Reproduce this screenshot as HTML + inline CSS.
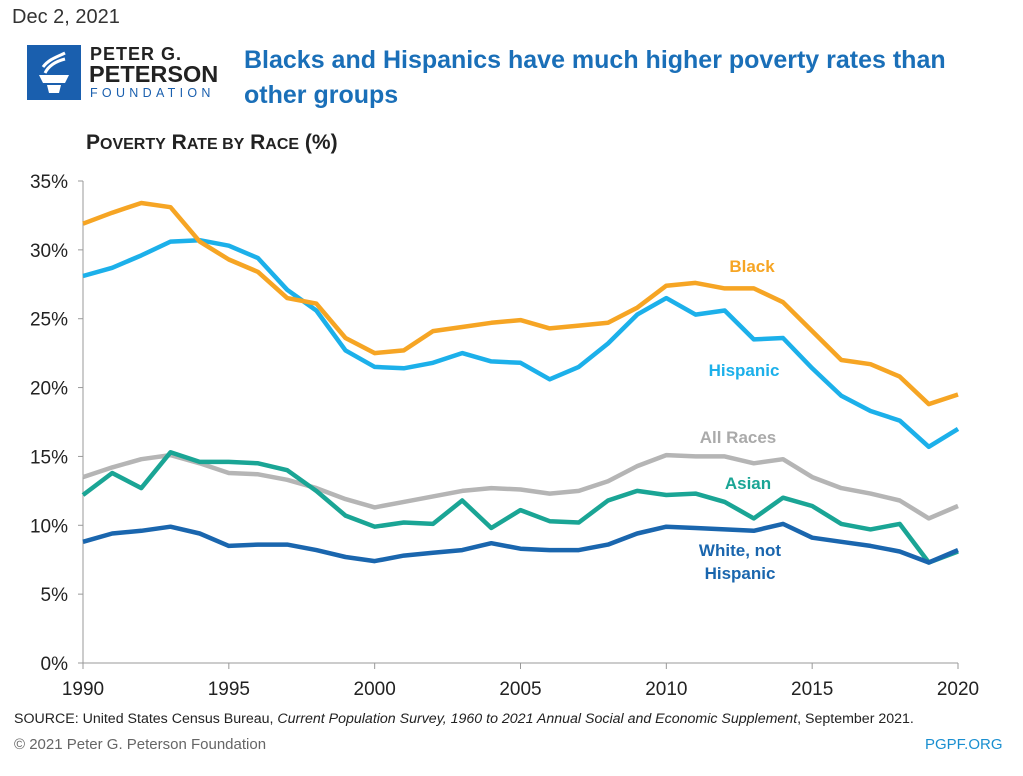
<!DOCTYPE html>
<html><head><meta charset="utf-8"><style>
body{margin:0;width:1023px;height:776px;background:#fff;overflow:hidden;font-family:"Liberation Sans",sans-serif;position:relative}
.t{position:absolute;white-space:nowrap}
</style></head><body>
<div class="t" style="left:12px;top:6px;font-size:20px;color:#333">Dec 2, 2021</div>
<div style="position:absolute;left:27px;top:45px;width:54px;height:55px;background:#1a5fae"></div>
<svg style="position:absolute;left:27px;top:45px" width="54" height="55"><g fill="none" stroke="#fff" stroke-width="3"><path d="M18 28 C22 20,30 16,38 14"/><path d="M16 22 C22 14,30 12,38 8"/></g><path d="M12 30 H42 L38 38 H16 Z" fill="#fff"/><path d="M20 40 H34 L32 48 H22 Z" fill="#fff"/></svg>
<div class="t" style="left:90px;top:44px;font-size:18px;font-weight:bold;color:#222;letter-spacing:1px">PETER G.</div>
<div class="t" style="left:89px;top:61px;font-size:23.5px;font-weight:bold;color:#222">PETERSON</div>
<div class="t" style="left:90px;top:86px;font-size:12.5px;color:#1a5fae;letter-spacing:4.3px">FOUNDATION</div>
<div class="t" style="left:244px;top:43px;font-size:25px;font-weight:bold;color:#1a6fb8;line-height:35px">Blacks and Hispanics have much higher poverty rates than<br>other groups</div>
<div class="t" style="left:86px;top:131px;font-size:21px;font-weight:bold;color:#222">P<span style="font-size:16px">OVERTY</span> R<span style="font-size:16px">ATE BY</span> R<span style="font-size:16px">ACE</span> (%)</div>
<svg id="c" style="position:absolute;left:0;top:0" width="1023" height="776"></svg>
<div class="t" style="left:14px;top:711px;font-size:14.2px;color:#222">SOURCE: United States Census Bureau, <i>Current Population Survey, 1960 to 2021 Annual Social and Economic Supplement</i>, September 2021.</div>
<div class="t" style="left:14px;top:736px;font-size:15px;color:#666">© 2021 Peter G. Peterson Foundation</div>
<div class="t" style="left:925px;top:736px;font-size:15px;color:#1a8fd0">PGPF.ORG</div>
<script>
var s=document.getElementById('c'),h='';
function X(y){return 83+(y-1990)*875/30}function Y(v){return 663-v*482/35}
h+='<line x1="83" y1="181" x2="83" y2="663" stroke="#999"/><line x1="83" y1="663" x2="958" y2="663" stroke="#999"/>';
for(var i=0;i<=7;i++){var y=Y(i*5);h+='<line x1="78" y1="'+y+'" x2="83" y2="'+y+'" stroke="#999"/><text x="68" y="'+(y+7)+'" font-size="19" text-anchor="end" fill="#222" font-family="Liberation Sans">'+(i*5)+'%</text>';}
for(var yr=1990;yr<=2020;yr+=5){var x=X(yr);h+='<line x1="'+x+'" y1="663" x2="'+x+'" y2="669" stroke="#999"/><text x="'+x+'" y="695" font-size="19" text-anchor="middle" fill="#222" font-family="Liberation Sans">'+yr+'</text>';}
var D=[
["#b5b5b5",[13.5,14.2,14.8,15.1,14.5,13.8,13.7,13.3,12.7,11.9,11.3,11.7,12.1,12.5,12.7,12.6,12.3,12.5,13.2,14.3,15.1,15.0,15.0,14.5,14.8,13.5,12.7,12.3,11.8,10.5,11.4]],
["#1aa595",[12.2,13.8,12.7,15.3,14.6,14.6,14.5,14.0,12.5,10.7,9.9,10.2,10.1,11.8,9.8,11.1,10.3,10.2,11.8,12.5,12.2,12.3,11.7,10.5,12.0,11.4,10.1,9.7,10.1,7.3,8.1]],
["#1a66ae",[8.8,9.4,9.6,9.9,9.4,8.5,8.6,8.6,8.2,7.7,7.4,7.8,8.0,8.2,8.7,8.3,8.2,8.2,8.6,9.4,9.9,9.8,9.7,9.6,10.1,9.1,8.8,8.5,8.1,7.3,8.2]],
["#1cb0ea",[28.1,28.7,29.6,30.6,30.7,30.3,29.4,27.1,25.6,22.7,21.5,21.4,21.8,22.5,21.9,21.8,20.6,21.5,23.2,25.3,26.5,25.3,25.6,23.5,23.6,21.4,19.4,18.3,17.6,15.7,17.0]],
["#f6a524",[31.9,32.7,33.4,33.1,30.6,29.3,28.4,26.5,26.1,23.6,22.5,22.7,24.1,24.4,24.7,24.9,24.3,24.5,24.7,25.8,27.4,27.6,27.2,27.2,26.2,24.1,22.0,21.7,20.8,18.8,19.5]]];
D.forEach(function(d){var p=d[1].map(function(v,i){return X(1990+i).toFixed(1)+','+Y(v).toFixed(1)}).join(' ');h+='<polyline points="'+p+'" fill="none" stroke="'+d[0]+'" stroke-width="4.5" stroke-linejoin="round"/>';});
function L(x,y,t,c){h+='<text x="'+x+'" y="'+y+'" font-size="17" font-weight="bold" text-anchor="middle" fill="'+c+'" font-family="Liberation Sans">'+t+'</text>';}
L(752,272,'Black','#f6a524');L(744,376,'Hispanic','#1cb0ea');L(738,443,'All Races','#aaa');L(748,489,'Asian','#1aa595');L(740,556,'White, not','#1a66ae');L(740,579,'Hispanic','#1a66ae');
s.innerHTML=h;
</script>
</body></html>
